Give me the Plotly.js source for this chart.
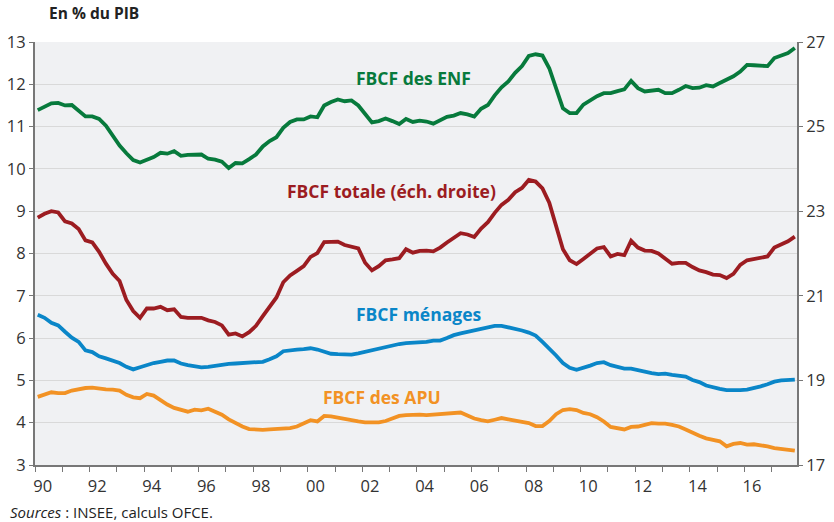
<!DOCTYPE html>
<html>
<head>
<meta charset="utf-8">
<script src="https://cdn.plot.ly/plotly-3.0.1.min.js"></script>
<style>
  html, body { margin: 0; padding: 0; background: #fff; }
  #chart { width: 834px; height: 522px; }
</style>
</head>
<body>
<div id="chart"></div>
<script>
// Quarterly data, 1990T1 - 2017T4 (en % du PIB)
const startYear = 1990;
const endYear = 2017;

// FBCF des ENF (échelle gauche)
const enf = [
  11.39, 11.46, 11.55, 11.56,  11.50, 11.51, 11.38, 11.24,  11.24, 11.18, 11.02, 10.77,
  10.55, 10.37, 10.21, 10.15,  10.22, 10.28, 10.38, 10.36,  10.42, 10.31, 10.33, 10.34,
  10.34, 10.24, 10.22, 10.17,  10.02, 10.14, 10.13, 10.23,  10.34, 10.53, 10.66, 10.75,
  10.97, 11.11, 11.17, 11.17,  11.24, 11.22, 11.50, 11.58,  11.64, 11.60, 11.62, 11.50,
  11.31, 11.10, 11.13, 11.19,  11.13, 11.06, 11.18, 11.11,  11.14, 11.12, 11.07, 11.16,
  11.23, 11.26, 11.32, 11.29,  11.24, 11.42, 11.51, 11.74,  11.93, 12.07, 12.27, 12.43,
  12.67, 12.71, 12.68, 12.38,  11.88, 11.43, 11.32, 11.32,  11.52, 11.62, 11.72, 11.79,
  11.79, 11.84, 11.88, 12.08,  11.91, 11.83, 11.84, 11.87,  11.79, 11.79, 11.87, 11.96,
  11.91, 11.92, 11.98, 11.95,  12.03, 12.11, 12.19, 12.30,  12.46, 12.45, 12.44, 12.43,
  12.62, 12.68, 12.74, 12.86
];

// FBCF totale (échelle droite)
const totale = [
  22.85, 22.94, 23.00, 22.97,  22.76, 22.71, 22.58, 22.31,  22.26, 22.04, 21.76, 21.52,
  21.35, 20.90, 20.64, 20.48,  20.70, 20.70, 20.74, 20.66,  20.68, 20.50, 20.48, 20.48,
  20.48, 20.42, 20.38, 20.30,  20.08, 20.11, 20.04, 20.14,  20.29, 20.52, 20.76, 20.96,
  21.32, 21.48, 21.59, 21.70,  21.92, 22.01, 22.27, 22.28,  22.28, 22.20, 22.15, 22.12,
  21.78, 21.60, 21.70, 21.84,  21.86, 21.89, 22.10, 22.02,  22.06, 22.07, 22.05, 22.14,
  22.26, 22.38, 22.48, 22.45,  22.39, 22.59, 22.74, 22.96,  23.15, 23.27, 23.45, 23.55,
  23.74, 23.70, 23.54, 23.20,  22.66, 22.10, 21.84, 21.75,  21.87, 22.00, 22.12, 22.15,
  21.93, 21.99, 21.96, 22.30,  22.14, 22.07, 22.06, 22.00,  21.88, 21.76, 21.78, 21.78,
  21.68, 21.60, 21.56, 21.50,  21.49, 21.42, 21.52, 21.73,  21.84, 21.87, 21.90, 21.93,
  22.14, 22.21, 22.29, 22.40
];

// FBCF des ménages (échelle gauche)
const menages = [
  6.55, 6.48, 6.36, 6.30,  6.15, 6.01, 5.91, 5.71,  5.67, 5.57, 5.52, 5.46,
  5.41, 5.32, 5.26, 5.31,  5.37, 5.41, 5.44, 5.47,  5.47, 5.40, 5.36, 5.33,
  5.31, 5.32, 5.35, 5.37,  5.39, 5.40, 5.41, 5.41,  5.41, 5.44, 5.50, 5.57,
  5.69, 5.72, 5.73, 5.74,  5.76, 5.73, 5.68, 5.63,  5.62, 5.62, 5.61, 5.64,
  5.68, 5.71, 5.75, 5.79,  5.83, 5.86, 5.88, 5.89,  5.89, 5.91, 5.94, 5.94,
  6.00, 6.07, 6.11, 6.15,  6.18, 6.22, 6.27, 6.29,  6.29, 6.26, 6.23, 6.18,
  6.13, 6.06, 5.91, 5.76,  5.59, 5.41, 5.30, 5.25,  5.29, 5.35, 5.41, 5.43,
  5.36, 5.32, 5.28, 5.28,  5.24, 5.20, 5.17, 5.15,  5.16, 5.13, 5.12, 5.09,
  5.01, 4.96, 4.88, 4.83,  4.80, 4.77, 4.76, 4.77,  4.78, 4.81, 4.86, 4.91,
  4.97, 5.00, 5.02, 5.02
];

// FBCF des APU (échelle gauche)
const apu = [
  4.61, 4.66, 4.72, 4.70,  4.70, 4.76, 4.80, 4.82,  4.83, 4.80, 4.79, 4.78,
  4.76, 4.66, 4.60, 4.58,  4.68, 4.64, 4.53, 4.43,  4.35, 4.31, 4.26, 4.31,
  4.29, 4.33, 4.27, 4.19,  4.08, 3.99, 3.91, 3.85,  3.83, 3.83, 3.84, 3.85,
  3.86, 3.87, 3.91, 3.99,  4.06, 4.03, 4.16, 4.15,  4.12, 4.08, 4.04, 4.03,
  4.01, 4.00, 4.01, 4.04,  4.09, 4.16, 4.18, 4.19,  4.19, 4.18, 4.19, 4.20,
  4.22, 4.23, 4.24, 4.17,  4.10, 4.06, 4.03, 4.07,  4.11, 4.08, 4.06, 4.02,
  3.99, 3.92, 3.92, 4.04,  4.20, 4.30, 4.32, 4.30,  4.23, 4.20, 4.13, 4.03,
  3.90, 3.88, 3.84, 3.90,  3.91, 3.95, 3.99, 3.98,  3.98, 3.95, 3.91, 3.84,
  3.76, 3.69, 3.63, 3.59,  3.56, 3.44, 3.50, 3.52,  3.48, 3.49, 3.47, 3.44,
  3.40, 3.38, 3.36, 3.34
];

const xLabelYears = [1990, 1992, 1994, 1996, 1998, 2000, 2002, 2004, 2006, 2008, 2010, 2012, 2014, 2016];
const xLabelText  = ['90', '92', '94', '96', '98', '00', '02', '04', '06', '08', '10', '12', '14', '16'];
const leftTicks  = [3, 4, 5, 6, 7, 8, 9, 10, 11, 12, 13];
const rightTicks = [17, 19, 21, 23, 25, 27];

const seriesNames = ['FBCF des ENF', 'FBCF totale (éch. droite)', 'FBCF ménages', 'FBCF des APU'];

// ---- build time axis (quarters, plotted inside each quarter) ----
const t = [];
for (let y = startYear; y <= endYear; y++) {
  for (let q = 0; q < 4; q++) t.push(y + q / 4 + 0.1);
}
const yearTicks = [];
for (let y = startYear; y <= endYear + 1; y++) yearTicks.push(y);

const C_GREEN = '#077A3C', C_RED = '#9C1C21', C_BLUE = '#0A86C8', C_ORANGE = '#F29224';
const FONT = 'Open Sans, Lato, sans-serif';

const mk = (y, color, yaxis, name) => ({
  x: t, y: y, type: 'scatter', mode: 'lines', name: name,
  yaxis: yaxis, xaxis: 'x',
  line: { color: color, width: 3.8 }, hoverinfo: 'skip'
});

const data = [
  mk(apu, C_ORANGE, 'y', seriesNames[3]),
  mk(menages, C_BLUE, 'y', seriesNames[2]),
  mk(totale, C_RED, 'y2', seriesNames[1]),
  mk(enf, C_GREEN, 'y', seriesNames[0]),
  { x: [], y: [], xaxis: 'x2', yaxis: 'y', type: 'scatter', mode: 'lines', showlegend: false, hoverinfo: 'skip' }
];

const xr = [1990, 2017.93];

const ann = (text, x, y, color, yref) => ({
  text: '<b>' + text + '</b>', x: x, y: y, xref: 'x', yref: yref || 'y',
  showarrow: false, font: { family: FONT, size: 17.5, color: color }, xanchor: 'center', yanchor: 'middle'
});

const layout = {
  width: 834, height: 522,
  margin: { l: 35, r: 37, t: 42, b: 57 },
  paper_bgcolor: '#ffffff',
  plot_bgcolor: '#F0F1F3',
  showlegend: false,
  font: { family: FONT, color: '#333333', size: 16 },
  xaxis: {
    range: xr, tickmode: 'array', tickvals: yearTicks, showticklabels: false,
    ticks: 'outside', ticklen: 5, tickwidth: 1, tickcolor: '#777777',
    showgrid: false, zeroline: false, showline: true, linecolor: '#777777', linewidth: 2,
    fixedrange: true
  },
  xaxis2: {
    overlaying: 'x', anchor: 'y', side: 'bottom', range: xr,
    tickmode: 'array', tickvals: xLabelYears.map(v => v + 0.28), ticktext: xLabelText,
    ticks: 'outside', ticklen: 6, tickcolor: 'rgba(0,0,0,0)',
    showgrid: false, zeroline: false, showline: false,
    tickfont: { family: FONT, size: 16.5, color: '#333333' }
  },
  yaxis: {
    range: [3, 13], tickmode: 'array', tickvals: leftTicks,
    ticks: 'outside', ticklen: 4, tickcolor: '#777777',
    showgrid: true, gridcolor: '#D9D9D9', gridwidth: 1, zeroline: false,
    showline: true, linecolor: '#777777', linewidth: 2,
    tickfont: { family: FONT, size: 16.5, color: '#333333' }
  },
  yaxis2: {
    range: [17, 27], overlaying: 'y', side: 'right', tickmode: 'array', tickvals: rightTicks,
    ticks: 'outside', ticklen: 4, tickcolor: '#777777',
    showgrid: false, zeroline: false, showline: true, linecolor: '#777777', linewidth: 2,
    tickfont: { family: FONT, size: 16.5, color: '#333333' }
  },
  annotations: [
    ann(seriesNames[0], 2003.88, 12.15, C_GREEN),
    ann(seriesNames[1], 2003.05, 9.48, C_RED),
    ann(seriesNames[2], 2004.04, 6.58, C_BLUE),
    ann(seriesNames[3], 2002.73, 4.6, C_ORANGE),
    { text: '<b>En % du PIB</b>', xref: 'paper', yref: 'paper', x: 0.016, y: 1.068,
      xanchor: 'left', yanchor: 'middle', showarrow: false,
      font: { family: FONT, size: 15.5, color: '#222222' } },
    { text: '<i>Sources</i> : INSEE, calculs OFCE.', xref: 'paper', yref: 'paper', x: -0.036, y: -0.112,
      xanchor: 'left', yanchor: 'middle', showarrow: false,
      font: { family: FONT, size: 15, color: '#222222' } }
  ]
};

Plotly.newPlot('chart', data, layout, { staticPlot: true, displayModeBar: false });
</script>
</body>
</html>
